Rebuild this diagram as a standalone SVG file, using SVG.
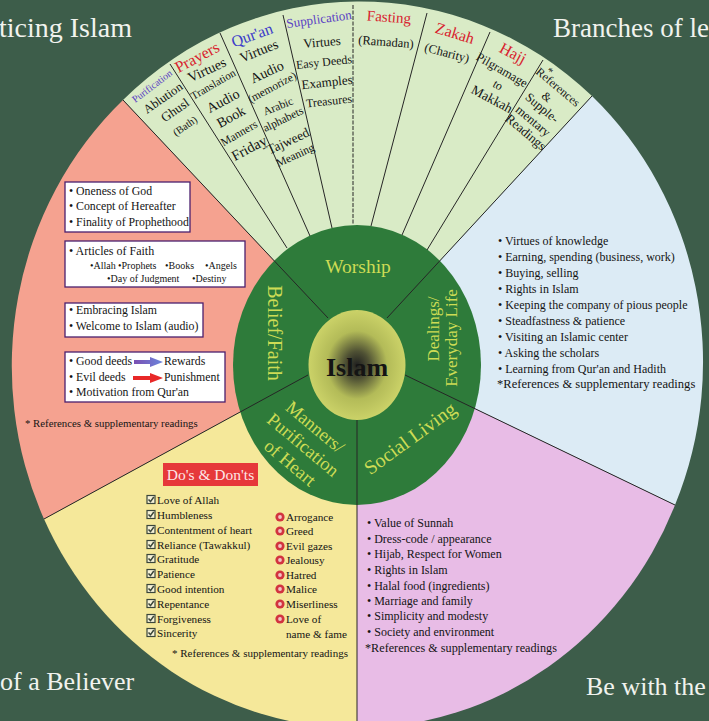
<svg xmlns="http://www.w3.org/2000/svg" width="709" height="721" viewBox="0 0 709 721">
<defs>
<style>
text{font-family:"Liberation Serif","Times New Roman",serif;fill:#141414;}
.title{fill:#f1f3ee;}
.w{text-anchor:middle;dominant-baseline:central;}
.red{fill:#d8222e;}
.blu{fill:#3b3bc9;}
.pur{fill:#5a3fc4;}
.rt{fill:#cddc55;text-anchor:middle;dominant-baseline:central;}
.div{stroke:#262626;stroke-width:1;fill:none;}
.box{fill:#fff;stroke:#4b1f6e;stroke-width:1.3;}
.b12{font-size:12px;}
.y11{font-size:11.2px;}
</style>
<radialGradient id="core" cx="50%" cy="50%" r="50%">
<stop offset="0" stop-color="#202020"/>
<stop offset="0.25" stop-color="#4f5134"/>
<stop offset="0.62" stop-color="#b3bb58"/>
<stop offset="1" stop-color="#cbd268"/>
</radialGradient>
<linearGradient id="ga" x1="0" x2="1"><stop offset="0" stop-color="#7b4fb2"/><stop offset="1" stop-color="#6b86dc"/></linearGradient>
<g id="chk"><rect x="0" y="-8.5" width="8" height="8" fill="#f6f1d6" stroke="#3b463b" stroke-width="1.2"/><path d="M1.5,-4.6 L3.5,-2.4 L6.8,-7" fill="none" stroke="#3b463b" stroke-width="1.5"/></g>
<g id="no"><circle cx="0" cy="-4" r="4.6" fill="#d2333f"/><circle cx="0" cy="-4" r="1.9" fill="#f2c4c4"/></g>
</defs>

<rect x="0" y="0" width="709" height="721" fill="#3d5d4a"/>

<g id="titles">
<text class="title" font-size="28" x="132" y="37" text-anchor="end">ticing Islam</text>
<text class="title" font-size="27" x="553" y="37">Branches of le</text>
<text class="title" font-size="26" x="0" y="690">of a Believer</text>
<text class="title" font-size="26" x="586" y="695">Be with the</text>
</g>

<g id="worship">
<path d="M328,318 L123,100 A345,362 0 0 1 592,96 L387,318 L357,365 Z" fill="#d9ebc6"/>
<text class="w pur" font-size="10" transform="translate(152,86) rotate(-37)">Purification</text>
<text class="w" font-size="12.5" transform="translate(163,98) rotate(-35)">Ablution</text>
<text class="w" font-size="13" transform="translate(175,110) rotate(-35)">Ghusl</text>
<text class="w" font-size="10.5" transform="translate(185,126) rotate(-35)">(Bath)</text>
<text class="w red" font-size="16" transform="translate(197,57) rotate(-28)">Prayers</text>
<text class="w" font-size="14" transform="translate(207,70) rotate(-25)">Virtues</text>
<text class="w" font-size="11" transform="translate(213,84) rotate(-30)">Translation</text>
<text class="w" font-size="14" transform="translate(223,101) rotate(-28)">Audio</text>
<text class="w" font-size="14" transform="translate(231,117) rotate(-29)">Book</text>
<text class="w" font-size="11.5" transform="translate(239,133) rotate(-30)">Manners</text>
<text class="w" font-size="14.5" transform="translate(249,148) rotate(-28)">Friday</text>
<text class="w blu" font-size="16" transform="translate(252,35) rotate(-20)">Qur'an</text>
<text class="w" font-size="14" transform="translate(259,51) rotate(-22)">Virtues</text>
<text class="w" font-size="14" transform="translate(267,72) rotate(-25)">Audio</text>
<text class="w" font-size="11.4" transform="translate(272,87) rotate(-28)">(memorize)</text>
<text class="w" font-size="11.5" transform="translate(278,106) rotate(-22)">Arabic</text>
<text class="w" font-size="11.5" transform="translate(283,119) rotate(-26)">alphabets</text>
<text class="w" font-size="13.4" transform="translate(288,141) rotate(-25)">Tajweed</text>
<text class="w" font-size="11.5" transform="translate(295,155) rotate(-25)">Meaning</text>
<text class="w pur" font-size="13" transform="translate(319,19) rotate(-8)">Supplication</text>
<text class="w" font-size="13" transform="translate(322,42) rotate(-5)">Virtues</text>
<text class="w" font-size="12" transform="translate(324,62) rotate(-6)">Easy Deeds</text>
<text class="w" font-size="13" transform="translate(327,82) rotate(-6)">Examples</text>
<text class="w" font-size="12" transform="translate(329,101) rotate(-6)">Treasures</text>
<text class="w red" font-size="15" transform="translate(389,17) rotate(4)">Fasting</text>
<text class="w" font-size="12.5" transform="translate(386,42) rotate(4)">(Ramadan)</text>
<text class="w red" font-size="16" transform="translate(455,33) rotate(17)">Zakah</text>
<text class="w" font-size="12.5" transform="translate(447,53) rotate(15)">(Charity)</text>
<text class="w red" font-size="16" transform="translate(513,53) rotate(28)">Hajj</text>
<text class="w" font-size="12.5" transform="translate(502,70) rotate(30)">Pilgramage</text>
<text class="w" font-size="12" transform="translate(498,85) rotate(30)">to</text>
<text class="w" font-size="13.5" transform="translate(492,99) rotate(28)">Makkah</text>
<text class="w" font-size="11" transform="translate(550,71) rotate(40)">*</text>
<text class="w" font-size="12" transform="translate(558,87) rotate(40)">References</text>
<text class="w" font-size="12" transform="translate(547,97) rotate(40)">&amp;</text>
<text class="w" font-size="12.5" transform="translate(542,108) rotate(40)">Supple-</text>
<text class="w" font-size="12.5" transform="translate(533,121) rotate(40)">mentary</text>
<text class="w" font-size="13" transform="translate(526,132) rotate(40)">Readings</text>
</g>

<g id="belief">
<path d="M308,375 L44,519 A345,362 0 0 1 123,100 L328,318 L357,365 Z" fill="#f5a290"/>
<rect class="box" x="65" y="182" width="125" height="50"/>
<text font-size="11.8" x="69" y="195">• Oneness of God</text>
<text font-size="11.8" x="69" y="210">• Concept of Hereafter</text>
<text font-size="11.8" x="69" y="226">• Finality of Prophethood</text>
<rect class="box" x="65" y="241" width="180" height="46"/>
<text class="b12" x="69" y="255">• Articles of Faith</text>
<text font-size="10" x="90" y="269">•Allah</text>
<text font-size="10" x="118" y="269">•Prophets</text>
<text font-size="10" x="165" y="269">•Books</text>
<text font-size="10" x="205" y="269">•Angels</text>
<text font-size="10" x="107" y="282">•Day of Judgment</text>
<text font-size="10" x="192" y="282">•Destiny</text>
<rect class="box" x="65" y="303" width="138" height="34"/>
<text font-size="11.8" x="69" y="314">• Embracing Islam</text>
<text font-size="11.8" x="69" y="330">• Welcome to Islam (audio)</text>
<rect class="box" x="65" y="352" width="160" height="50"/>
<text font-size="11.8" x="69" y="365">• Good deeds</text>
<polygon points="134,360 150,360 150,357 163,362 150,367 150,364 134,364" fill="url(#ga)"/>
<text font-size="11.8" x="164" y="365">Rewards</text>
<text font-size="11.8" x="69" y="381">• Evil deeds</text>
<polygon points="133,376 150,376 150,373 163,378 150,383 150,380 133,380" fill="#e82828"/>
<text font-size="11.8" x="164" y="381">Punishment</text>
<text font-size="11.8" x="69" y="396">• Motivation from Qur'an</text>
<text font-size="10.8" x="25" y="427">* References &amp; supplementary readings</text>
</g>

<g id="dealings">
<path d="M387,318 L592,96 A345,362 0 0 1 675,505 L405,375 L357,365 Z" fill="#dcebf5"/>
<g class="b12">
<text x="498" y="245">• Virtues of knowledge</text>
<text x="498" y="261">• Earning, spending (business, work)</text>
<text x="498" y="277">• Buying, selling</text>
<text x="498" y="293">• Rights in Islam</text>
<text x="498" y="309">• Keeping the company of pious people</text>
<text x="498" y="325">• Steadfastness &amp; patience</text>
<text x="498" y="341">• Visiting an Islamic center</text>
<text x="498" y="357">• Asking the scholars</text>
<text x="498" y="373">• Learning from Qur'an and Hadith</text>
<text x="497" y="388" font-size="12.6">*References &amp; supplementary readings</text>
</g>
</g>

<g id="social">
<path d="M405,375 L675,505 A345,362 0 0 1 357,728 L357,420 Z" fill="#e8bce6"/>
<g class="b12">
<text x="367" y="527">• Value of Sunnah</text>
<text x="367" y="543">• Dress-code / appearance</text>
<text x="367" y="558">• Hijab, Respect for Women</text>
<text x="367" y="574">• Rights in Islam</text>
<text x="367" y="590">• Halal food (ingredients)</text>
<text x="367" y="605">• Marriage and family</text>
<text x="367" y="620">• Simplicity and modesty</text>
<text x="367" y="636">• Society and environment</text>
<text x="365" y="652" font-size="12.2">*References &amp; supplementary readings</text>
</g>
</g>

<g id="manners">
<path d="M357,420 L357,728 A345,362 0 0 1 44,519 L308,375 Z" fill="#f5e89a"/>
<rect x="163" y="463" width="95" height="23" fill="#e6383a"/>
<text x="210.5" y="480" font-size="15.5" text-anchor="middle" style="fill:#fde6e6">Do's &amp; Don'ts</text>
<g class="y11">
<use href="#chk" x="147" y="504"/><text x="157" y="504">Love of Allah</text>
<use href="#chk" x="147" y="519"/><text x="157" y="519">Humbleness</text>
<use href="#chk" x="147" y="534"/><text x="157" y="534">Contentment of heart</text>
<use href="#chk" x="147" y="549"/><text x="157" y="549">Reliance (Tawakkul)</text>
<use href="#chk" x="147" y="563"/><text x="157" y="563">Gratitude</text>
<use href="#chk" x="147" y="578"/><text x="157" y="578">Patience</text>
<use href="#chk" x="147" y="593"/><text x="157" y="593">Good intention</text>
<use href="#chk" x="147" y="608"/><text x="157" y="608">Repentance</text>
<use href="#chk" x="147" y="623"/><text x="157" y="623">Forgiveness</text>
<use href="#chk" x="147" y="637"/><text x="157" y="637">Sincerity</text>
<use href="#no" x="280" y="521"/><text x="286" y="521">Arrogance</text>
<use href="#no" x="280" y="535"/><text x="286" y="535">Greed</text>
<use href="#no" x="280" y="550"/><text x="286" y="550">Evil gazes</text>
<use href="#no" x="280" y="564"/><text x="286" y="564">Jealousy</text>
<use href="#no" x="280" y="579"/><text x="286" y="579">Hatred</text>
<use href="#no" x="280" y="593"/><text x="286" y="593">Malice</text>
<use href="#no" x="280" y="608"/><text x="286" y="608">Miserliness</text>
<use href="#no" x="280" y="623"/><text x="286" y="623">Love of</text>
<text x="286" y="638">name &amp; fame</text>
<text x="172" y="657" font-size="11">* References &amp; supplementary readings</text>
</g>
</g>

<g id="ring">
<ellipse cx="357" cy="365" rx="124" ry="140" fill="#2e7b3a"/>
<text class="rt" font-size="19.5" x="358" y="266">Worship</text>
<text class="rt" font-size="20" transform="translate(275,333) rotate(90)">Belief/Faith</text>
<text class="rt" font-size="17" transform="translate(433,329) rotate(-90)">Dealings/</text>
<text class="rt" font-size="17" transform="translate(451,338) rotate(-90)">Everyday Life</text>
<text class="rt" font-size="18.5" transform="translate(315,427) rotate(40)">Manners/</text>
<text class="rt" font-size="18.5" transform="translate(303,445) rotate(40)">Purification</text>
<text class="rt" font-size="18.5" transform="translate(290,463) rotate(40)">of Heart</text>
<text class="rt" font-size="20" transform="translate(410,438) rotate(-36)">Social Living</text>
</g>

<g id="connectors">
<line class="div" x1="170" y1="64" x2="287" y2="248"/>
<line class="div" x1="220" y1="33" x2="310" y2="236"/>
<line class="div" x1="283" y1="15" x2="332" y2="228"/>
<line class="div" x1="353" y1="5" x2="353" y2="225" stroke-dasharray="4,1.5"/>
<line class="div" x1="427" y1="13" x2="371" y2="226"/>
<line class="div" x1="490" y1="32" x2="402" y2="235"/>
<line class="div" x1="543" y1="60" x2="427" y2="250"/>
<line class="div" x1="123" y1="100" x2="328" y2="318"/>
<line class="div" x1="592" y1="96" x2="387" y2="318"/>
<line class="div" x1="405" y1="375" x2="675" y2="505"/>
<line class="div" x1="357" y1="415" x2="357" y2="721"/>
<line class="div" x1="308" y1="375" x2="44" y2="519"/>
</g>

<g id="islam">
<ellipse cx="357" cy="365" rx="48.5" ry="55" fill="url(#core)"/>
<text x="357" y="376" font-size="26" font-weight="bold" text-anchor="middle">Islam</text>
</g>
</svg>
